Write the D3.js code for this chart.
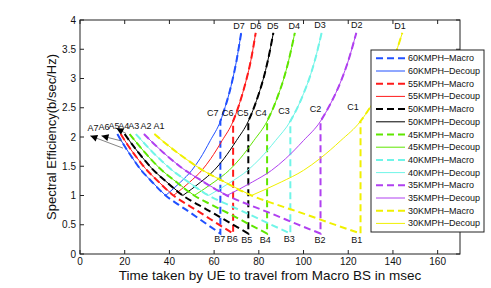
<!DOCTYPE html>
<html><head><meta charset="utf-8">
<script src="https://cdn.jsdelivr.net/npm/d3@7"></script>
<style>
body{margin:0;background:#fff}
svg{display:block}
text{font-family:"Liberation Sans",Arial,Helvetica,sans-serif;fill:#111}
</style>
</head><body>
<svg id="chart" width="491" height="288"></svg>
<script>
// ---------------- data ----------------
const speeds = ["60", "55", "50", "45", "40", "35", "30"];
const colors = ["#2050ff", "#ff1a1a", "#000000", "#5fe600", "#70f5e8", "#b040f0", "#f0f000"];

// spectral efficiency along the falling (macro) branch and rising (pico) branch
const seFall = [2.05, 1.89, 1.74, 1.60, 1.46, 1.27, 1.00, 0.84, 0.69, 0.51, 0.35];
const seRise = [1.00, 1.23, 1.43, 1.63, 1.94, 2.27, 2.52, 2.74, 2.99, 3.30, 3.78];

// time (msec) of each point, per speed
const tFall60 = [16.7, 19.2, 21.7, 24.2, 26.8, 31.3, 38.3, 44.2, 50.0, 56.7, 62.8];
const tFall55 = [18.2, 20.9, 23.6, 26.4, 29.3, 34.2, 41.8, 48.2, 54.5, 61.8, 68.5];
const tFall50 = [20.0, 23.0, 26.0, 29.0, 32.2, 37.6, 46.0, 53.0, 60.0, 68.0, 75.3];
const tFall45 = [22.2, 25.6, 28.9, 32.2, 35.8, 41.8, 51.1, 58.9, 66.7, 75.6, 83.7];
const tFall40 = [25.0, 28.8, 32.5, 36.3, 40.3, 47.0, 57.5, 66.3, 75.0, 85.0, 94.1];
const tFall35 = [28.6, 32.9, 37.1, 41.4, 46.0, 53.7, 65.7, 75.7, 85.7, 97.1, 107.6];
const tFall30 = [33.3, 38.3, 43.3, 48.3, 53.7, 62.7, 76.7, 88.3, 100.0, 113.3, 125.5];

const tRise60 = [38.3, 45.0, 50.0, 53.7, 58.3, 62.8, 65.0, 66.7, 68.3, 70.0, 72.1];
const tRise55 = [41.8, 49.1, 54.5, 58.5, 63.6, 68.5, 70.9, 72.7, 74.5, 76.4, 78.6];
const tRise50 = [46.0, 54.0, 60.0, 64.4, 70.0, 75.3, 78.0, 80.0, 82.0, 84.0, 86.5];
const tRise45 = [51.1, 60.0, 66.7, 71.6, 77.8, 83.7, 86.7, 88.9, 91.1, 93.3, 96.1];
const tRise40 = [57.5, 67.5, 75.0, 80.5, 87.5, 94.1, 97.5, 100.0, 102.5, 105.0, 108.1];
const tRise35 = [65.7, 77.1, 85.7, 92.0, 100.0, 107.6, 111.4, 114.3, 117.1, 120.0, 123.6];
const tRise30 = [76.7, 90.0, 100.0, 107.3, 116.7, 125.5, 130.0, 133.3, 136.7, 140.0, 144.2];

const tFall = [tFall60, tFall55, tFall50, tFall45, tFall40, tFall35, tFall30];
const tRise = [tRise60, tRise55, tRise50, tRise45, tRise40, tRise35, tRise30];
const minIndex = 6;   // falling point where decoupled curve turns
const cIndex = 5;     // rising point reached at the hand-over (C)

// point labels (data coordinates)
const aNames = ["A7", "A6", "A5", "A4", "A3", "A2", "A1"];
const aT = [5.8, 10.7, 15.2, 19.6, 24.1, 29.5, 35.3];
const aV = [2.16, 2.17, 2.19, 2.18, 2.18, 2.18, 2.18];
const bNames = ["B7", "B6", "B5", "B4", "B3", "B2", "B1"];
const bT = [62.5, 68.1, 74.6, 82.9, 93.6, 107.4, 123.8];
const bV = [0.25, 0.25, 0.24, 0.24, 0.25, 0.24, 0.24];
const cNames = ["C7", "C6", "C5", "C4", "C3", "C2", "C1"];
const cT = [59.4, 66.1, 72.8, 81.0, 91.3, 105.4, 122.1];
const cV = [2.41, 2.41, 2.41, 2.41, 2.45, 2.48, 2.51];
const dNames = ["D7", "D6", "D5", "D4", "D3", "D2", "D1"];
const dT = [71.1, 78.6, 86.2, 95.9, 107.4, 123.8, 143.2];
const dV = [3.89, 3.89, 3.89, 3.89, 3.91, 3.91, 3.89];

// arrows for A7, A6, A5: tail -> head (data coordinates)
const arrowTailT = [19.2, 18.8, 20.6];
const arrowTailV = [1.81, 1.93, 2.06];
const arrowHeadT = [4.6, 9.6, 16.3];
const arrowHeadV = [2.02, 2.02, 2.15];

const xTicks = [0, 20, 40, 60, 80, 100, 120, 140, 160];
const yTicks = [0, 0.5, 1, 1.5, 2, 2.5, 3, 3.5, 4];
const xDomain = [0, 170];
const yDomain = [0, 4];

// ---------------- drawing ----------------
const svg = d3.select("#chart");
const L = 80, R = 460, T = 20, B = 254;
const x = d3.scaleLinear().domain(xDomain).range([L, R]);
const y = d3.scaleLinear().domain(yDomain).range([B, T]);
const axisColor = "#222";

const defs = svg.append("defs");
defs.append("clipPath").attr("id", "clip").append("rect")
  .attr("x", L).attr("y", T).attr("width", R - L).attr("height", B - T);
defs.append("marker").attr("id", "ah").attr("viewBox", "0 0 10 10")
  .attr("refX", 10).attr("refY", 5).attr("markerWidth", 8).attr("markerHeight", 7)
  .attr("markerUnits", "userSpaceOnUse").attr("orient", "auto")
  .append("path").attr("d", "M0,0 L10,5 L0,10 Z").attr("fill", "#000");

const line = d3.line().x(d => x(d[0])).y(d => y(d[1])).curve(d3.curveMonotoneX);
const cont = s => "L" + s.slice(1);

const plot = svg.append("g").attr("clip-path", "url(#clip)");

speeds.forEach((sp, i) => {
  const fall = tFall[i].map((t, k) => [t, seFall[k]]);
  const rise = tRise[i].map((t, k) => [t, seRise[k]]);
  // Macro: fall all the way to B, jump to C, then follow the rising branch
  const macroD = line(fall) + "L" + x(rise[cIndex][0]) + "," + y(rise[cIndex][1]) +
                 cont(line(rise.slice(cIndex)));
  plot.append("path").attr("d", macroD).attr("fill", "none")
    .attr("stroke", colors[i]).attr("stroke-width", 2).attr("stroke-dasharray", "7,4");
  // Decoupled: fall to the turning point then rise
  const decD = line(fall.slice(0, minIndex + 1)) + cont(line(rise));
  plot.append("path").attr("d", decD).attr("fill", "none")
    .attr("stroke", colors[i]).attr("stroke-width", 1);
});

// arrows
arrowTailT.forEach((t, i) => {
  svg.append("line")
    .attr("x1", x(t)).attr("y1", y(arrowTailV[i]))
    .attr("x2", x(arrowHeadT[i])).attr("y2", y(arrowHeadV[i]))
    .attr("stroke", "#333").attr("stroke-width", 0.6)
    .attr("marker-end", "url(#ah)");
});

// point labels
function labels(names, ts, vs) {
  names.forEach((n, i) => {
    svg.append("text").attr("x", x(ts[i])).attr("y", y(vs[i]))
      .attr("text-anchor", "middle").attr("dominant-baseline", "central")
      .attr("font-size", 9).text(n);
  });
}
labels(aNames, aT, aV);
labels(bNames, bT, bV);
labels(cNames, cT, cV);
labels(dNames, dT, dV);

// axes box
svg.append("rect").attr("x", L).attr("y", T).attr("width", R - L).attr("height", B - T)
  .attr("fill", "none").attr("stroke", axisColor).attr("stroke-width", 1);

const tl = 4;
const gx = svg.append("g");
xTicks.forEach(v => {
  gx.append("line").attr("x1", x(v)).attr("x2", x(v)).attr("y1", B).attr("y2", B - tl).attr("stroke", axisColor);
  gx.append("line").attr("x1", x(v)).attr("x2", x(v)).attr("y1", T).attr("y2", T + tl).attr("stroke", axisColor);
  gx.append("text").attr("x", x(v)).attr("y", B + 11).attr("text-anchor", "middle")
    .attr("font-size", 10).text(v);
});
const gy = svg.append("g");
yTicks.forEach(v => {
  gy.append("line").attr("x1", L).attr("x2", L + tl).attr("y1", y(v)).attr("y2", y(v)).attr("stroke", axisColor);
  gy.append("line").attr("x1", R).attr("x2", R - tl).attr("y1", y(v)).attr("y2", y(v)).attr("stroke", axisColor);
  gy.append("text").attr("x", L - 4).attr("y", y(v)).attr("text-anchor", "end")
    .attr("dominant-baseline", "central").attr("font-size", 10).text(v);
});

svg.append("text").attr("x", (L + R) / 2).attr("y", 280).attr("text-anchor", "middle")
  .attr("font-size", 13.5).text("Time taken by UE to travel from Macro BS in msec");
svg.append("text").attr("transform", `translate(56,${(T + B) / 2}) rotate(-90)`)
  .attr("text-anchor", "middle").attr("font-size", 13).text("Spectral Efficiency(b/sec/Hz)");

// legend
const lg = svg.append("g");
const lx = 371, ly = 50, lw = 113, lh = 182;
lg.append("rect").attr("x", lx).attr("y", ly).attr("width", lw).attr("height", lh)
  .attr("fill", "#fff").attr("stroke", axisColor).attr("stroke-width", 1);
const entries = [];
speeds.forEach((sp, i) => {
  entries.push({ name: sp + "KMPH\u2013Macro", c: colors[i], dash: true });
  entries.push({ name: sp + "KMPH\u2013Decoup", c: colors[i], dash: false });
});
entries.forEach((e, k) => {
  const yy = 58.3 + k * 12.7;
  lg.append("line").attr("x1", 376).attr("x2", 405).attr("y1", yy).attr("y2", yy)
    .attr("stroke", e.c).attr("stroke-width", e.dash ? 2 : 1)
    .attr("stroke-dasharray", e.dash ? "7,4" : null);
  lg.append("text").attr("x", 408).attr("y", yy).attr("dominant-baseline", "central")
    .attr("font-size", 9).text(e.name);
});
</script>
</body></html>
